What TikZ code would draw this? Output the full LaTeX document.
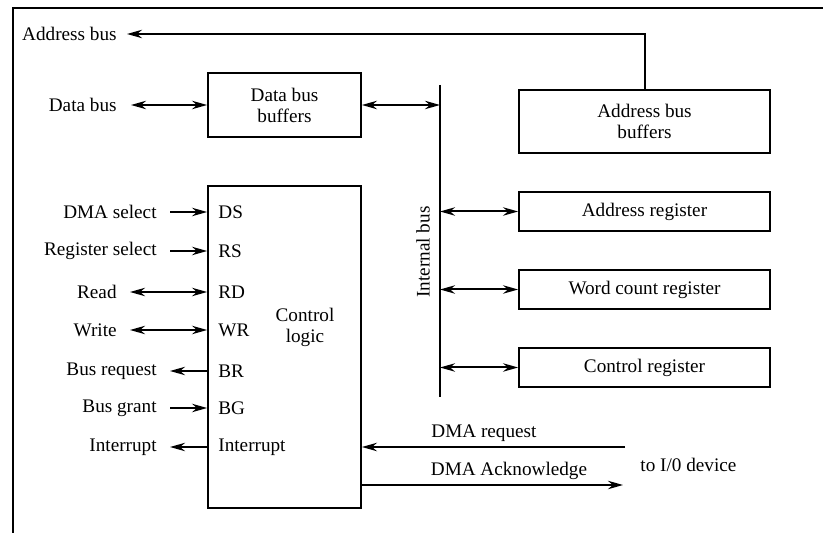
\documentclass[tikz,border=0pt]{standalone}
\usepackage{fontspec}
\setmainfont{Liberation Serif}
\usetikzlibrary{arrows.meta}
\begin{document}
\begin{tikzpicture}[x=0.5pt,y=-0.5pt,
  every node/.style={font=\fontsize{9.6pt}{10.5pt}\selectfont},
  box/.style={draw, line width=0.9pt, inner sep=0pt, align=center},
  lbl/.style={anchor=east, inner xsep=6.5pt, inner ysep=0pt},
  pin/.style={anchor=west, inner xsep=5pt, inner ysep=0pt},
  arr/.style={line width=1pt, -{Stealth[length=7.5pt,width=4.2pt]}},
  dbl/.style={line width=1pt, {Stealth[length=7.5pt,width=4.2pt]}-{Stealth[length=7.5pt,width=4.2pt]}},
  frame/.style={line width=0.7pt}]
\useasboundingbox (0,0) rectangle (823,533);
% outer frame (cropped)
\coordinate (frA) at (13,533);
\coordinate (frB) at (13,8);
\coordinate (frC) at (823,8);
\draw[frame] (frA) -- (frB) -- (frC);

% boxes
\node[box, minimum width=76.5pt, minimum height=32pt] (dbb) at (284.5,105) {Data bus\\buffers};
\node[box, minimum width=125.5pt, minimum height=31.5pt] (abb) at (644.5,121.5) {Address bus\\buffers};
\node[box, minimum width=125.5pt, minimum height=19.5pt] (ar) at (644.5,211.5) {Address register};
\node[box, minimum width=125.5pt, minimum height=19.5pt] (wcr) at (644.5,289.5) {Word count register};
\node[box, minimum width=125.5pt, minimum height=19.5pt] (cr) at (644.5,367.5) {Control register};
\node[box, minimum width=76.5pt, minimum height=161pt] (cl) at (284.5,347) {};
\node[align=center, inner sep=0pt] (cltxt) at (305,327) {Control\\logic};

% address bus
\node[anchor=east, inner xsep=5pt, inner ysep=0pt] (ab) at (127,34) {Address bus};
\draw[arr] (abb.north) |- (ab.east);

% data bus
\node[anchor=east, inner xsep=7pt, inner ysep=0pt] (db) at (131,105) {Data bus};
\draw[dbl] (db.east) -- (dbb.west);

% internal bus
\coordinate (ibt) at (440,85);
\coordinate (ibb) at (440,397);
\draw[line width=0.9pt] (ibt) -- (ibb);
\node[rotate=90, inner sep=0pt] (iblbl) at (423,252) {Internal bus};
\draw[dbl] (dbb.east) -- (dbb.east -| ibt);
\draw[dbl] (ar.west -| ibt) -- (ar.west);
\draw[dbl] (wcr.west -| ibt) -- (wcr.west);
\draw[dbl] (cr.west -| ibt) -- (cr.west);

% pins
\node[pin] (ds) at (208,212) {DS};
\node[pin] (rs) at (208,251) {RS};
\node[pin] (rd) at (208,292) {RD};
\node[pin] (wr) at (208,330) {WR};
\node[pin] (br) at (208,371) {BR};
\node[pin] (bg) at (208,408) {BG};
\node[pin] (intp) at (208,447) {Interrupt};

% left labels
\node[lbl] (dmas) at (170,212) {DMA select};
\node[lbl] (regs) at (170,251) {Register select};
\node[lbl] (rdl) at (130,292) {Read};
\node[lbl] (wrl) at (130,330) {Write};
\node[lbl] (brl) at (170,371) {Bus request};
\node[lbl] (bgl) at (170,408) {Bus grant};
\node[lbl] (intl) at (170,447) {Interrupt};

\draw[arr] (dmas.east) -- (cl.west |- dmas.east);
\draw[arr] (regs.east) -- (cl.west |- regs.east);
\draw[dbl] (rdl.east) -- (cl.west |- rdl.east);
\draw[dbl] (wrl.east) -- (cl.west |- wrl.east);
\draw[arr] (cl.west |- brl.east) -- (brl.east);
\draw[arr] (bgl.east) -- (cl.west |- bgl.east);
\draw[arr] (cl.west |- intl.east) -- (intl.east);

% DMA request / acknowledge
\coordinate (dmar) at (625,447);
\coordinate (dmaa) at (623,485);
\draw[arr] (dmar) -- (cl.east |- dmar);
\draw[arr] (cl.east |- dmaa) -- (dmaa);
\node[inner sep=0pt] (dmarl) at (484,433) {DMA request};
\node[inner sep=0pt] (dmaal) at (509,471) {DMA Acknowledge};
\node[anchor=west, inner sep=0pt] (io) at (640,465) {to I/0 device};
\end{tikzpicture}
\end{document}
